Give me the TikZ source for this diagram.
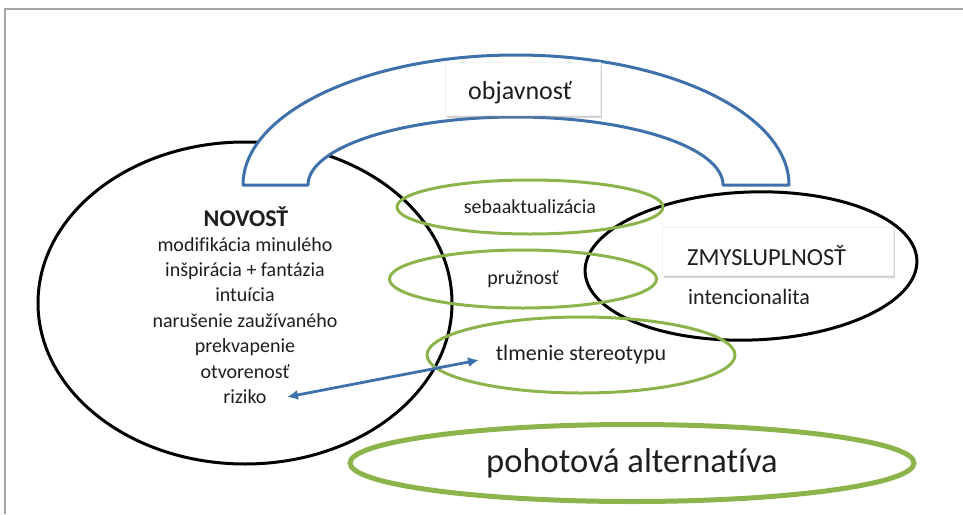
\documentclass[tikz,border=0pt]{standalone}
\usepackage{fontspec}
\setmainfont{Carlito}[Ligatures=NoCommon]
\usetikzlibrary{shapes.geometric,shadows,arrows.meta}
\definecolor{arcblue}{RGB}{62,112,172}
\definecolor{lgreen}{RGB}{141,180,76}
\definecolor{txt}{RGB}{30,30,30}
\begin{document}
\begin{tikzpicture}[x=1pt,y=-1pt,
  blackell/.style={ellipse, draw=black, line width=3pt, inner sep=0pt},
  greenell/.style={ellipse, draw=lgreen, line width=3pt, inner sep=0pt, text=txt},
  whitebox/.style={draw=gray!12, fill=white, inner sep=0pt,
     drop shadow={shadow xshift=2pt, shadow yshift=-3pt, opacity=0.35}},
  lbl/.style={text=txt, inner sep=0pt}]
\useasboundingbox (0,0) rectangle (963,514);
% frame
\draw[gray!70, line width=1.2pt] (5,514) -- (5,9) -- (963,9);
% main ellipses
\node[blackell, minimum width=414pt, minimum height=322pt] (novost) at (245,303) {};
\node[blackell, minimum width=332pt, minimum height=148pt, rotate=2] (zmysl) at (751,266) {};
% green ellipses
\node[greenell, minimum width=266pt, minimum height=54pt, font=\fontsize{20}{24}\selectfont] (seba) at (530,207) {sebaaktualizácia};
\node[greenell, minimum width=267pt, minimum height=58pt, font=\fontsize{20}{24}\selectfont] (pruz) at (523,279) {pružnosť};
\node[greenell, minimum width=308pt, minimum height=76pt, font=\fontsize{22}{26}\selectfont] (tlm) at (581,355) {tlmenie stereotypu};
\node[greenell, line width=5pt, minimum width=564pt, minimum height=77pt, font=\fontsize{34.5}{40}\selectfont] (poh) at (632,463) {pohotová alternatíva};
% blue arch
\draw[arcblue, line width=3pt, fill=white, line join=round]
  (243,185) arc[start angle=180, end angle=360, x radius=273, y radius=130]
  -- (723,185) arc[start angle=0, end angle=-180, x radius=207.5, y radius=68]
  -- cycle;
% boxes
\node[whitebox, minimum width=155pt, minimum height=53pt] (objbox) at (522.5,88.5) {};
\node[lbl, font=\fontsize{26}{30}\selectfont] (obj) at (520,93) {objavnosť};
\node[whitebox, minimum width=231pt, minimum height=48pt] (zbox) at (777.5,251) {};
\node[lbl, font=\fontsize{24.5}{30}\selectfont, anchor=west] (ztext) at (687,256) {ZMYSLUPLNOSŤ};
\node[lbl, font=\fontsize{22}{26}\selectfont, anchor=west] (inten) at (688,297) {intencionalita};
% NOVOSŤ texts
\node[lbl, font=\fontsize{24}{28}\selectfont\bfseries] (novtitle) at (246,217) {NOVOSŤ};
\node[lbl, font=\fontsize{20}{25.4}\selectfont, align=center, anchor=north] (novlist) at (245,237)
  {modifikácia minulého\\ inšpirácia + fantázia\\ intuícia\\ narušenie zaužívaného\\ prekvapenie\\ otvorenosť\\ riziko};
% arrow
\coordinate (a1) at (287,397);
\coordinate (a2) at (479,360);
\draw[arcblue, line width=2.8pt, {Latex[length=11pt,width=10pt]}-{Latex[length=11pt,width=10pt]}] (a1) -- (a2);
\end{tikzpicture}
\end{document}
